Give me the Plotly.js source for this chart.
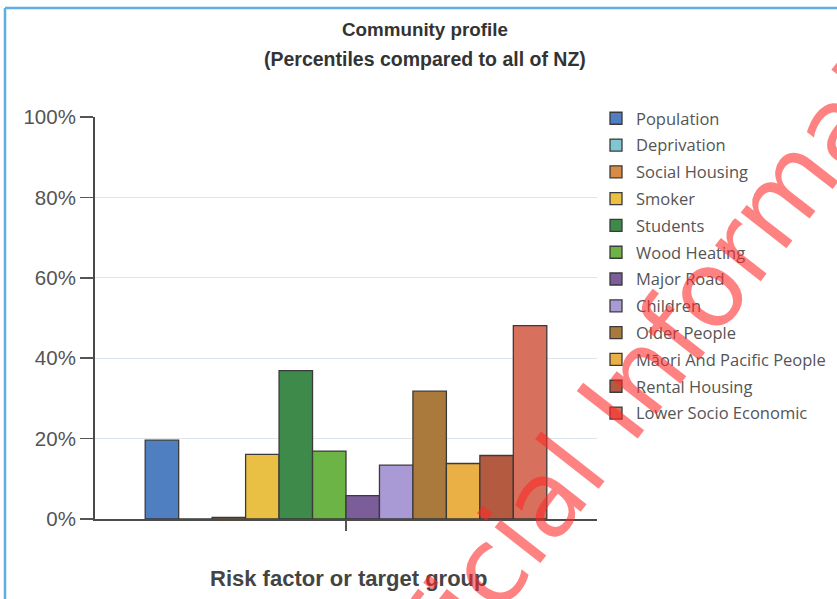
<!DOCTYPE html>
<html>
<head>
<meta charset="utf-8">
<script src="https://cdn.plot.ly/plotly-3.0.1.min.js"></script>
<style>html,body{margin:0;padding:0;background:#fff;}#chart{width:837px;height:599px;}</style>
</head>
<body>
<div id="chart"></div>
<script>
// ---- data ----
const seriesNames = ["Population","Deprivation","Social Housing","Smoker","Students","Wood Heating","Major Road","Children","Older People","M\u0101ori And Pacific People","Rental Housing","Lower Socio Economic"];
const seriesValues = [19.6, 0, 0.4, 16.1, 36.9, 16.9, 5.8, 13.4, 31.8, 13.8, 15.8, 48.1];
const category = [""];
const yTickVals = [0, 20, 40, 60, 80, 100];
const yTickText = ["0%", "20%", "40%", "60%", "80%", "100%"];
const seriesColors = ["#4f7ec1","#83c6d3","#d98a44","#e9c043","#3e8a4b","#6bb445","#7a5d99","#a99ad6","#a97a3c","#eaaf45","#b45a40","#d7705c"];

const traces = seriesNames.map((name, i) => ({
  type: "bar",
  name: name,
  legendgroup: "g" + i,
  x: category,
  y: [seriesValues[i]],
  marker: { color: seriesColors[i], line: { color: "#3a3a3a", width: 1.3 } },
  hoverinfo: "name+y"
}));

const L = 95, R = 240, T = 117, B = 80, W = 837, H = 599;
const pw = W - L - R, ph = H - T - B;
const px = v => (v - L) / pw;
const py = v => (H - B - v) / ph;

const layout = {
  width: W, height: H,
  margin: { l: L, r: R, t: T, b: B, pad: 0, autoexpand: false },
  paper_bgcolor: "#ffffff",
  plot_bgcolor: "#ffffff",
  barmode: "group",
  bargap: 0.2,
  bargroupgap: 0,
  showlegend: true,
  legend: {
    xref: "container", yref: "container",
    x: 596 / W, y: 1 - 101 / H, xanchor: "left", yanchor: "top",
    font: { family: "Open Sans", size: 16.5, color: "#555555" },
    tracegroupgap: 2.35,
    maxheight: 560,
    bgcolor: "rgba(0,0,0,0)"
  },
  xaxis: {
    type: "category",
    showticklabels: false,
    showgrid: false,
    showline: true, linecolor: "#4a4a4a", linewidth: 2,
    ticks: "outside", ticklen: 10, tickcolor: "#555", tickwidth: 1.5,
    zeroline: false,
    fixedrange: true
  },
  yaxis: {
    range: [0, 100],
    tickvals: yTickVals,
    ticktext: yTickText,
    showline: true, linecolor: "#4a4a4a", linewidth: 2,
    ticks: "outside", ticklen: 13, tickcolor: "#555", tickwidth: 1.5,
    tickfont: { family: "Liberation Sans", size: 20.5, color: "#555555" },
    showgrid: true, gridcolor: "#dde4ea", gridwidth: 1,
    zeroline: false,
    fixedrange: true
  },
  annotations: [
    { text: "<b>Community profile</b>", xref: "paper", yref: "paper", x: px(425), y: py(29), xanchor: "center", yanchor: "middle", showarrow: false, font: { family: "Liberation Sans", size: 18.8, color: "#333333" } },
    { text: "<b>(Percentiles compared to all of NZ)</b>", xref: "paper", yref: "paper", x: px(425), y: py(59), xanchor: "center", yanchor: "middle", showarrow: false, font: { family: "Liberation Sans", size: 19.5, color: "#333333" } },
    { text: "<b>Risk factor or target group</b>", xref: "paper", yref: "paper", x: px(348), y: py(578), xanchor: "center", yanchor: "middle", showarrow: false, font: { family: "Liberation Sans", size: 22, color: "#444444" } },
    { text: "Official Information", xref: "paper", yref: "paper", x: px(667), y: py(341), xanchor: "center", yanchor: "middle", textangle: -52, showarrow: false, font: { family: "DejaVu Sans", size: 106, color: "rgba(255,40,40,0.58)" } }
  ],
  shapes: [
    { type: "line", xref: "paper", yref: "paper", x0: px(5), x1: px(5), y0: py(8), y1: py(599), line: { color: "#5eaee2", width: 2.5 } },
    { type: "line", xref: "paper", yref: "paper", x0: px(5), x1: px(837), y0: py(8), y1: py(8), line: { color: "#5eaee2", width: 2.5 } }
  ]
};

Plotly.newPlot("chart", traces, layout, { displayModeBar: false, staticPlot: true });
</script>
</body>
</html>
